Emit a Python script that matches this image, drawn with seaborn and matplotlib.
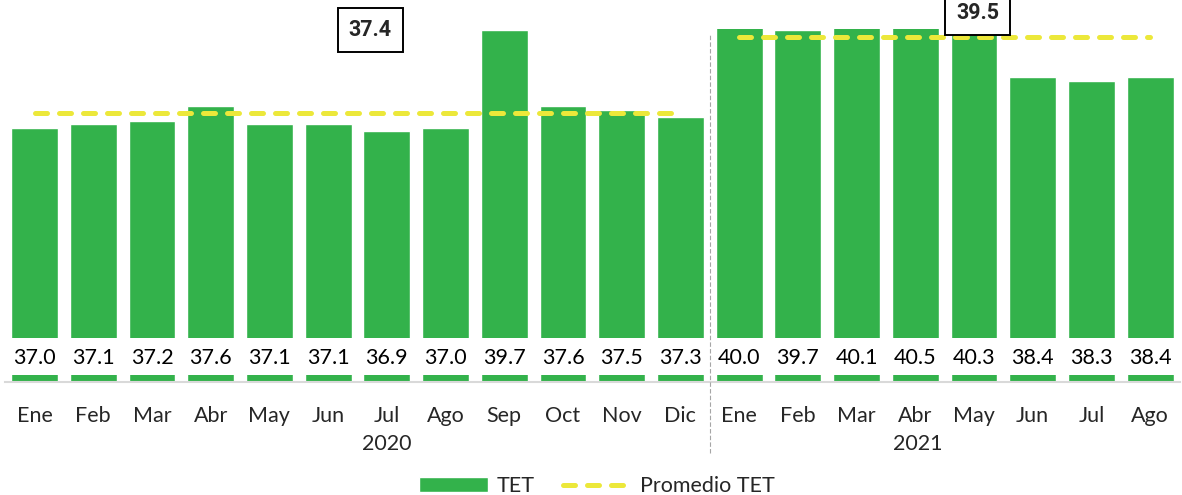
import matplotlib
matplotlib.use("Agg")
import matplotlib.pyplot as plt
import matplotlib.transforms as mtransforms
from matplotlib.patches import Patch
from matplotlib.lines import Line2D
import numpy as np
import pandas as pd
import seaborn as sns

# --- data -------------------------------------------------------------
months_2020 = ["Ene", "Feb", "Mar", "Abr", "May", "Jun", "Jul", "Ago", "Sep", "Oct", "Nov", "Dic"]
months_2021 = ["Ene", "Feb", "Mar", "Abr", "May", "Jun", "Jul", "Ago"]
tet_2020 = [37.0, 37.1, 37.2, 37.6, 37.1, 37.1, 36.9, 37.0, 39.7, 37.6, 37.5, 37.3]
tet_2021 = [40.0, 39.7, 40.1, 40.5, 40.3, 38.4, 38.3, 38.4]
promedio_2020 = 37.4
promedio_2021 = 39.5
years = ["2020", "2021"]

# --- style ------------------------------------------------------------
GREEN = "#33B24B"
YELLOW = "#ECE83A"
sns.set_style("white")
plt.rcParams["font.family"] = ["Lato", "DejaVu Sans"]
FS = 15.5

df = pd.DataFrame({
    "periodo": [f"{m} 2020" for m in months_2020] + [f"{m} 2021" for m in months_2021],
    "mes": months_2020 + months_2021,
    "TET": tet_2020 + tet_2021,
})

W, H = 1182, 495
fig = plt.figure(figsize=(W / 100, H / 100), dpi=100)
ax = fig.add_axes([5.2 / W, 1 - 382 / H, (1179.5 - 5.2) / W, 353 / H])

sns.barplot(data=df, x="periodo", y="TET", color=GREEN, saturation=1,
            width=0.8, errorbar=None, ax=ax, zorder=1)
ax.set_ylim(30, 39.72)
ax.set_xlim(-0.5, len(df) - 0.5)

# white strip across the bars holding the value labels
ax.axhspan(30.19, 31.22, color="white", zorder=2, lw=0)
for i, v in enumerate(df["TET"]):
    ax.text(i, 30.66, f"{v:.1f}", ha="center", va="center", fontsize=FS,
            color="#000000", zorder=5)

# period averages
n20 = len(months_2020)
n21 = len(months_2021)
dash = (0, (2.4, 2.4))
ax.plot([0, n20 - 1], [promedio_2020, promedio_2020], color=YELLOW, lw=3.6,
        ls=dash, dash_capstyle="round", zorder=3)
ax.plot([n20, n20 + n21 - 1], [promedio_2021, promedio_2021], color=YELLOW, lw=3.6,
        ls=dash, dash_capstyle="round", zorder=3)

trans = mtransforms.blended_transform_factory(ax.transData, ax.transAxes)
box = dict(boxstyle="square,pad=0.5", fc="white", ec="black", lw=1.4)
bold_font = dict(family=["Roboto", "DejaVu Sans"], fontweight="bold", fontsize=FS)
ax.text(5.72, 0.997, f"{promedio_2020:.1f}", transform=trans, ha="center", va="center",
        bbox=box, zorder=6, clip_on=False, **bold_font)
ax.text(16.06, 1.045, f"{promedio_2021:.1f}", transform=trans, ha="center", va="center",
        bbox=box, zorder=6, clip_on=False, **bold_font)

# separator between years
ax.axvline(n20 - 0.5, ymin=-0.201, ymax=0.989, color="#A6A6A6", lw=0.8,
           ls=(0, (4, 2)), clip_on=False, zorder=4)

# axes cosmetics
ax.set_xticks(range(len(df)))
ax.set_xticklabels(df["mes"], fontsize=FS)
ax.tick_params(axis="x", length=0, pad=17)
ax.set_yticks([])
ax.set_xlabel("")
ax.set_ylabel("")
for s in ["top", "left", "right"]:
    ax.spines[s].set_visible(False)
ax.spines["bottom"].set_color("#D9D9D9")
ax.spines["bottom"].set_linewidth(1.5)

ax.text(6.0, -0.177, years[0], transform=trans, ha="center", va="center", fontsize=FS)
ax.text(15.05, -0.177, years[1], transform=trans, ha="center", va="center", fontsize=FS)

handles = [
    Patch(facecolor=GREEN, label="TET"),
    Line2D([], [], color=YELLOW, lw=3.6, ls=dash, dash_capstyle="round", label="Promedio TET"),
]
fig.legend(handles=handles, loc="center", bbox_to_anchor=(0.505, 0.018), ncol=2,
           frameon=False, fontsize=FS, handlelength=3.2, handletextpad=0.4,
           columnspacing=1.3, borderpad=0)

fig.savefig("out.png", dpi=100)
